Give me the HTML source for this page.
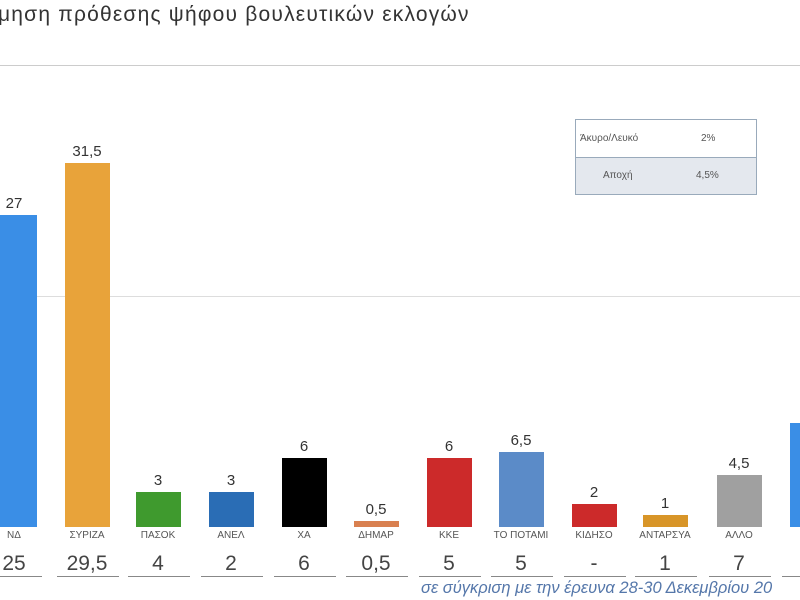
<!DOCTYPE html><html><head><meta charset="utf-8"><style>
body{margin:0;width:800px;height:600px;overflow:hidden;background:#fff;position:relative;font-family:"Liberation Sans",sans-serif}
div{position:absolute}
.t{font-size:21px;letter-spacing:1.2px;color:#333;left:-2px;top:3px;white-space:nowrap}
.b{width:45px}
.v{width:60px;text-align:center;font-size:15px;color:#333}
.n{width:60px;text-align:center;font-size:10px;color:#555;top:530px}
.p{width:60px;text-align:center;font-size:21px;color:#444;top:552px}
.u{height:1px;background:#888;top:576px;width:62px}
</style></head><body>
<div class="t">μηση πρόθεσης ψήφου βουλευτικών εκλογών</div>
<div style="left:0;top:65px;width:800px;height:1px;background:#ccc"></div>
<div style="left:0;top:296px;width:800px;height:1px;background:#ddd"></div>
<div style="left:575px;top:119px;width:180px;height:74px;border:1px solid #9ab;background:#fff">
<div style="left:0;top:0;width:180px;height:37px;border-bottom:1px solid #9ab;font-size:10px;color:#555"><span style="position:absolute;left:4px;top:13px">Άκυρο/Λευκό</span><span style="position:absolute;left:125px;top:13px">2%</span></div>
<div style="left:0;top:38px;width:180px;height:36px;background:#e4e8ee;font-size:10px;color:#555"><span style="position:absolute;left:27px;top:12px">Αποχή</span><span style="position:absolute;left:120px;top:12px">4,5%</span></div>
</div>
<div style="left:421px;top:579px;font-size:16.5px;font-style:italic;color:#5577aa;white-space:nowrap">σε σύγκριση με την έρευνα 28-30 Δεκεμβρίου 20</div>

<div class="b" style="left:-8px;top:215px;height:312px;background:#3a8ee6"></div><div class="v" style="left:-16px;top:195px">27</div><div class="n" style="left:-16px">ΝΔ</div><div class="p" style="left:-16px">25</div><div class="u" style="left:-20px"></div>
<div class="b" style="left:65px;top:163px;height:364px;background:#e8a33a"></div><div class="v" style="left:57px;top:143px">31,5</div><div class="n" style="left:57px">ΣΥΡΙΖΑ</div><div class="p" style="left:57px">29,5</div><div class="u" style="left:57px"></div>
<div class="b" style="left:136px;top:492px;height:35px;background:#3f9a2e"></div><div class="v" style="left:128px;top:472px">3</div><div class="n" style="left:128px">ΠΑΣΟΚ</div><div class="p" style="left:128px">4</div><div class="u" style="left:128px"></div>
<div class="b" style="left:209px;top:492px;height:35px;background:#2a6db5"></div><div class="v" style="left:201px;top:472px">3</div><div class="n" style="left:201px">ΑΝΕΛ</div><div class="p" style="left:201px">2</div><div class="u" style="left:201px"></div>
<div class="b" style="left:282px;top:458px;height:69px;background:#000"></div><div class="v" style="left:274px;top:438px">6</div><div class="n" style="left:274px">ΧΑ</div><div class="p" style="left:274px">6</div><div class="u" style="left:274px"></div>
<div class="b" style="left:354px;top:521px;height:6px;background:#d98050"></div><div class="v" style="left:346px;top:501px">0,5</div><div class="n" style="left:346px">ΔΗΜΑΡ</div><div class="p" style="left:346px">0,5</div><div class="u" style="left:346px"></div>
<div class="b" style="left:427px;top:458px;height:69px;background:#cc2a2a"></div><div class="v" style="left:419px;top:438px">6</div><div class="n" style="left:419px">ΚΚΕ</div><div class="p" style="left:419px">5</div><div class="u" style="left:419px"></div>
<div class="b" style="left:499px;top:452px;height:75px;background:#5b8bc8"></div><div class="v" style="left:491px;top:432px">6,5</div><div class="n" style="left:491px">ΤΟ ΠΟΤΑΜΙ</div><div class="p" style="left:491px">5</div><div class="u" style="left:491px"></div>
<div class="b" style="left:572px;top:504px;height:23px;background:#cc2a2a"></div><div class="v" style="left:564px;top:484px">2</div><div class="n" style="left:564px">ΚΙΔΗΣΟ</div><div class="p" style="left:564px">-</div><div class="u" style="left:564px"></div>
<div class="b" style="left:643px;top:515px;height:12px;background:#d89528"></div><div class="v" style="left:635px;top:495px">1</div><div class="n" style="left:635px">ΑΝΤΑΡΣΥΑ</div><div class="p" style="left:635px">1</div><div class="u" style="left:635px"></div>
<div class="b" style="left:717px;top:475px;height:52px;background:#a0a0a0"></div><div class="v" style="left:709px;top:455px">4,5</div><div class="n" style="left:709px">ΑΛΛΟ</div><div class="p" style="left:709px">7</div><div class="u" style="left:709px"></div>
<div class="b" style="left:790px;top:423px;height:104px;background:#3a8ee6"></div><div class="n" style="left:782px">Δ</div><div class="u" style="left:782px"></div>
</body></html>
